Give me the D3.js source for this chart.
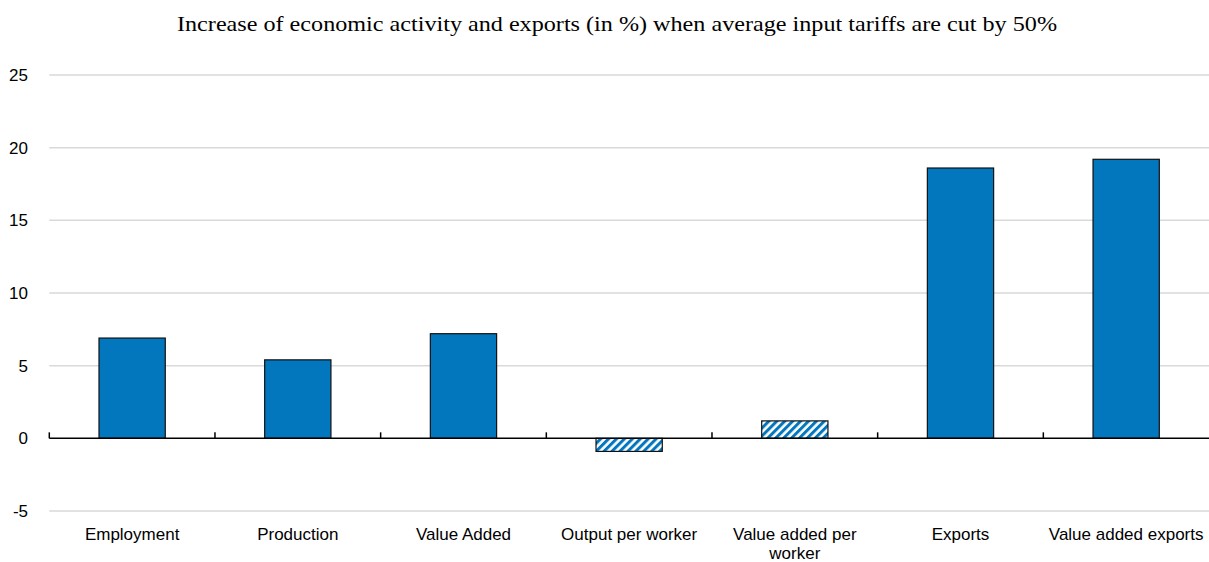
<!DOCTYPE html>
<html>
<head>
<meta charset="utf-8">
<script src="https://cdn.jsdelivr.net/npm/d3@7"></script>
<style>
  html, body { margin: 0; padding: 0; background: #fff; }
  svg { display: block; }
</style>
</head>
<body>
<svg id="chart" width="1209" height="562"></svg>
<script>
// Effect of halving average input tariffs (percentage change)
const categories = ["Employment", "Production", "Value Added", "Output per worker",
                    "Value added per worker", "Exports", "Value added exports"];
const values = [6.9, 5.4, 7.2, -0.9, 1.2, 18.6, 19.2];
// bars drawn with a hatched fill (not significant)
const hatched = [false, false, false, true, true, false, false];
const yTicks = [-5, 0, 5, 10, 15, 20, 25];
const title = "Increase of economic activity and exports (in %) when average input tariffs are cut by 50%";

const W = 1209, H = 562;
const margin = { left: 49.3, right: 0, top: 75, bottom: 51 };
const blue = "#0377bd";

const svg = d3.select("#chart");

const defs = svg.append("defs");
const pat = defs.append("pattern")
  .attr("id", "hatch")
  .attr("patternUnits", "userSpaceOnUse")
  .attr("width", 5.6).attr("height", 5.6)
  .attr("patternTransform", "rotate(45)");
pat.append("rect").attr("width", 5.6).attr("height", 5.6).attr("fill", "#fff");
pat.append("rect").attr("width", 3.0).attr("height", 5.6).attr("fill", blue);

const x = d3.scaleBand()
  .domain(categories)
  .range([margin.left, W - margin.right])
  .paddingInner(0.6)
  .paddingOuter(0.3);

const y = d3.scaleLinear()
  .domain([-5, 25])
  .range([H - margin.bottom, margin.top]);

// Title
svg.append("text")
  .attr("x", 617).attr("y", 31)
  .attr("text-anchor", "middle")
  .attr("textLength", 880)
  .attr("lengthAdjust", "spacingAndGlyphs")
  .style("font-family", "'Liberation Serif', 'Times New Roman', serif")
  .style("font-size", "22px")
  .attr("fill", "#000")
  .text(title);

// Gridlines
svg.append("g")
  .selectAll("line")
  .data(yTicks.filter(d => d !== 0))
  .join("line")
  .attr("x1", margin.left).attr("x2", W - margin.right)
  .attr("y1", d => y(d)).attr("y2", d => y(d))
  .attr("stroke", "#d9d9d9")
  .attr("stroke-width", 1.5);

// Y axis labels (plain hyphen for negatives)
const yAxis = d3.axisLeft(y).tickValues(yTicks).tickSize(0).tickPadding(0)
  .tickFormat(d => String(d));
const gy = svg.append("g")
  .attr("transform", "translate(28,0)")
  .call(yAxis);
gy.select(".domain").remove();
gy.selectAll("text")
  .style("font-family", "'Liberation Sans', Arial, sans-serif")
  .style("font-size", "17px")
  .attr("fill", "#000");

// Bars
svg.append("g")
  .selectAll("rect")
  .data(categories)
  .join("rect")
  .attr("x", d => x(d))
  .attr("width", x.bandwidth())
  .attr("y", (d, i) => y(Math.max(0, values[i])))
  .attr("height", (d, i) => Math.abs(y(values[i]) - y(0)))
  .attr("fill", (d, i) => hatched[i] ? "url(#hatch)" : blue)
  .attr("stroke", "#111")
  .attr("stroke-width", 1.2);

// Zero line with category boundary ticks
const step = x.step();
const boundaries = d3.range(categories.length).map(i => margin.left + i * step);
svg.append("line")
  .attr("x1", margin.left).attr("x2", W - margin.right)
  .attr("y1", y(0)).attr("y2", y(0))
  .attr("stroke", "#000").attr("stroke-width", 1.5);
svg.append("g")
  .selectAll("line")
  .data(boundaries)
  .join("line")
  .attr("x1", d => d).attr("x2", d => d)
  .attr("y1", y(0)).attr("y2", y(0) - 6)
  .attr("stroke", "#000").attr("stroke-width", 1.5);

// X labels, wrapped to the category width
const xl = svg.append("g")
  .style("font-family", "'Liberation Sans', Arial, sans-serif")
  .style("font-size", "17px")
  .attr("fill", "#000");

const measure = svg.append("text")
  .style("font-family", "'Liberation Sans', Arial, sans-serif")
  .style("font-size", "17px");
function wrap(label, maxW) {
  const words = label.split(" ");
  const lines = [];
  let cur = "";
  words.forEach(w => {
    const t = cur ? cur + " " + w : w;
    measure.text(t);
    if (measure.node().getComputedTextLength() > maxW && cur) {
      lines.push(cur);
      cur = w;
    } else cur = t;
  });
  lines.push(cur);
  return lines;
}

categories.forEach(c => {
  const lines = wrap(c, step - 4);
  const t = xl.append("text")
    .attr("text-anchor", "middle")
    .attr("x", x(c) + x.bandwidth() / 2)
    .attr("y", 539.5);
  lines.forEach((ln, k) => {
    t.append("tspan")
      .attr("x", x(c) + x.bandwidth() / 2)
      .attr("dy", k === 0 ? 0 : 19)
      .text(ln);
  });
});
measure.remove();
</script>
</body>
</html>
